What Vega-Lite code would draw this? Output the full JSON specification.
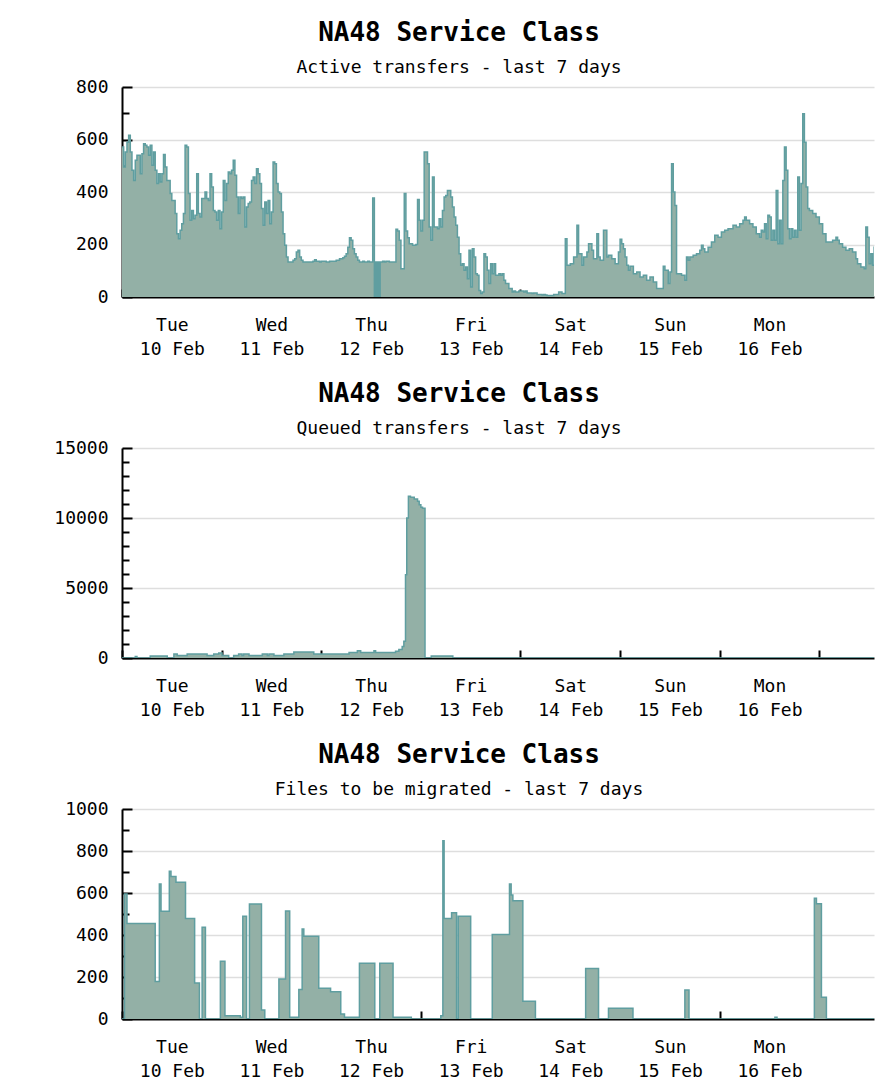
{
  "$schema": "https://vega.github.io/schema/vega-lite/v6.json",
  "background": "white",
  "padding": {"left": 53, "top": 20, "right": 10, "bottom": 0},
  "spacing": 23,
  "datasets": {
    "active": [
      {"t":"2009-02-10T00:00","v":571},{"t":"2009-02-10T00:24","v":495},{"t":"2009-02-10T00:48","v":552},{"t":"2009-02-10T01:12","v":590},{"t":"2009-02-10T01:36","v":616},{"t":"2009-02-10T02:00","v":552},{"t":"2009-02-10T02:24","v":483},{"t":"2009-02-10T02:48","v":444},{"t":"2009-02-10T03:12","v":521},{"t":"2009-02-10T03:36","v":540},{"t":"2009-02-10T04:24","v":470},{"t":"2009-02-10T04:48","v":546},{"t":"2009-02-10T05:12","v":584},{"t":"2009-02-10T05:36","v":578},{"t":"2009-02-10T06:00","v":571},{"t":"2009-02-10T06:24","v":540},{"t":"2009-02-10T06:48","v":578},{"t":"2009-02-10T07:12","v":502},{"t":"2009-02-10T07:36","v":552},{"t":"2009-02-10T08:00","v":483},{"t":"2009-02-10T08:24","v":432},{"t":"2009-02-10T08:48","v":470},{"t":"2009-02-10T09:12","v":438},{"t":"2009-02-10T09:36","v":470},{"t":"2009-02-10T10:00","v":543},{"t":"2009-02-10T10:24","v":495},{"t":"2009-02-10T10:48","v":444},{"t":"2009-02-10T11:36","v":394},{"t":"2009-02-10T12:00","v":368},{"t":"2009-02-10T12:48","v":318},{"t":"2009-02-10T13:12","v":241},{"t":"2009-02-10T13:36","v":222},{"t":"2009-02-10T14:00","v":254},{"t":"2009-02-10T14:24","v":279},{"t":"2009-02-10T14:48","v":318},{"t":"2009-02-10T15:12","v":578},{"t":"2009-02-10T15:36","v":571},{"t":"2009-02-10T16:00","v":394},{"t":"2009-02-10T16:24","v":292},{"t":"2009-02-10T16:48","v":330},{"t":"2009-02-10T17:12","v":298},{"t":"2009-02-10T17:36","v":311},{"t":"2009-02-10T18:00","v":470},{"t":"2009-02-10T18:24","v":318},{"t":"2009-02-10T18:48","v":305},{"t":"2009-02-10T19:12","v":375},{"t":"2009-02-10T20:00","v":400},{"t":"2009-02-10T20:24","v":375},{"t":"2009-02-10T20:48","v":368},{"t":"2009-02-10T21:12","v":470},{"t":"2009-02-10T21:36","v":419},{"t":"2009-02-10T22:00","v":330},{"t":"2009-02-10T22:24","v":324},{"t":"2009-02-10T22:48","v":292},{"t":"2009-02-10T23:12","v":330},{"t":"2009-02-10T23:36","v":260},
      {"t":"2009-02-11T00:00","v":324},{"t":"2009-02-11T00:24","v":444},{"t":"2009-02-11T00:48","v":368},{"t":"2009-02-11T01:12","v":432},{"t":"2009-02-11T01:36","v":476},{"t":"2009-02-11T02:00","v":470},{"t":"2009-02-11T02:24","v":483},{"t":"2009-02-11T02:48","v":521},{"t":"2009-02-11T03:12","v":464},{"t":"2009-02-11T03:36","v":381},{"t":"2009-02-11T04:00","v":318},{"t":"2009-02-11T04:24","v":381},{"t":"2009-02-11T04:48","v":375},{"t":"2009-02-11T05:12","v":381},{"t":"2009-02-11T05:36","v":267},{"t":"2009-02-11T06:00","v":343},{"t":"2009-02-11T06:24","v":356},{"t":"2009-02-11T06:48","v":362},{"t":"2009-02-11T07:12","v":444},{"t":"2009-02-11T07:36","v":457},{"t":"2009-02-11T08:00","v":432},{"t":"2009-02-11T08:24","v":489},{"t":"2009-02-11T08:48","v":470},{"t":"2009-02-11T09:12","v":432},{"t":"2009-02-11T09:36","v":337},{"t":"2009-02-11T10:00","v":273},{"t":"2009-02-11T10:24","v":362},{"t":"2009-02-11T10:48","v":318},{"t":"2009-02-11T11:12","v":368},{"t":"2009-02-11T11:36","v":279},{"t":"2009-02-11T12:00","v":324},{"t":"2009-02-11T12:24","v":514},{"t":"2009-02-11T12:48","v":508},{"t":"2009-02-11T13:12","v":432},{"t":"2009-02-11T13:36","v":400},{"t":"2009-02-11T14:00","v":394},{"t":"2009-02-11T14:24","v":324},{"t":"2009-02-11T14:48","v":241},{"t":"2009-02-11T15:12","v":197},{"t":"2009-02-11T15:36","v":152},{"t":"2009-02-11T16:00","v":133},{"t":"2009-02-11T17:12","v":140},{"t":"2009-02-11T17:36","v":146},{"t":"2009-02-11T18:00","v":171},{"t":"2009-02-11T18:24","v":178},{"t":"2009-02-11T18:48","v":152},{"t":"2009-02-11T19:12","v":140},{"t":"2009-02-11T19:36","v":133},{"t":"2009-02-11T22:00","v":136},{"t":"2009-02-11T22:24","v":142},{"t":"2009-02-11T22:48","v":136},{"t":"2009-02-11T23:36","v":133},
      {"t":"2009-02-12T00:00","v":136},{"t":"2009-02-12T01:12","v":133},{"t":"2009-02-12T02:00","v":136},{"t":"2009-02-12T03:36","v":140},{"t":"2009-02-12T04:24","v":146},{"t":"2009-02-12T05:12","v":150},{"t":"2009-02-12T05:36","v":155},{"t":"2009-02-12T06:00","v":165},{"t":"2009-02-12T06:24","v":190},{"t":"2009-02-12T06:48","v":226},{"t":"2009-02-12T07:12","v":216},{"t":"2009-02-12T07:36","v":184},{"t":"2009-02-12T08:00","v":165},{"t":"2009-02-12T08:24","v":152},{"t":"2009-02-12T08:48","v":140},{"t":"2009-02-12T09:12","v":133},{"t":"2009-02-12T10:00","v":136},{"t":"2009-02-12T10:24","v":133},{"t":"2009-02-12T11:12","v":136},{"t":"2009-02-12T11:36","v":133},{"t":"2009-02-12T12:24","v":377},{"t":"2009-02-12T12:48","v":0},{"t":"2009-02-12T13:00","v":133},{"t":"2009-02-12T13:12","v":0},{"t":"2009-02-12T13:24","v":133},{"t":"2009-02-12T13:36","v":0},{"t":"2009-02-12T13:48","v":133},{"t":"2009-02-12T14:00","v":0},{"t":"2009-02-12T14:12","v":133},{"t":"2009-02-12T14:48","v":136},{"t":"2009-02-12T15:12","v":133},{"t":"2009-02-12T15:36","v":136},{"t":"2009-02-12T16:24","v":133},{"t":"2009-02-12T18:00","v":258},{"t":"2009-02-12T18:24","v":251},{"t":"2009-02-12T18:48","v":216},{"t":"2009-02-12T19:12","v":108},{"t":"2009-02-12T20:00","v":394},{"t":"2009-02-12T20:24","v":251},{"t":"2009-02-12T20:48","v":226},{"t":"2009-02-12T21:12","v":203},{"t":"2009-02-12T22:00","v":197},{"t":"2009-02-12T22:48","v":200},{"t":"2009-02-12T23:12","v":371},{"t":"2009-02-12T23:36","v":292},
      {"t":"2009-02-13T00:00","v":251},{"t":"2009-02-13T00:24","v":292},{"t":"2009-02-13T00:48","v":552},{"t":"2009-02-13T01:36","v":508},{"t":"2009-02-13T02:00","v":267},{"t":"2009-02-13T02:24","v":216},{"t":"2009-02-13T02:48","v":457},{"t":"2009-02-13T03:12","v":267},{"t":"2009-02-13T04:00","v":260},{"t":"2009-02-13T04:24","v":298},{"t":"2009-02-13T04:48","v":267},{"t":"2009-02-13T05:12","v":330},{"t":"2009-02-13T05:36","v":381},{"t":"2009-02-13T06:00","v":387},{"t":"2009-02-13T06:24","v":406},{"t":"2009-02-13T07:12","v":381},{"t":"2009-02-13T07:36","v":343},{"t":"2009-02-13T08:00","v":305},{"t":"2009-02-13T08:24","v":273},{"t":"2009-02-13T08:48","v":228},{"t":"2009-02-13T09:12","v":165},{"t":"2009-02-13T09:36","v":121},{"t":"2009-02-13T10:00","v":127},{"t":"2009-02-13T10:24","v":102},{"t":"2009-02-13T10:48","v":114},{"t":"2009-02-13T11:12","v":70},{"t":"2009-02-13T11:36","v":178},{"t":"2009-02-13T12:00","v":38},{"t":"2009-02-13T12:24","v":184},{"t":"2009-02-13T12:48","v":152},{"t":"2009-02-13T13:12","v":89},{"t":"2009-02-13T13:36","v":83},{"t":"2009-02-13T14:00","v":25},{"t":"2009-02-13T14:24","v":13},{"t":"2009-02-13T14:48","v":19},{"t":"2009-02-13T15:12","v":165},{"t":"2009-02-13T15:36","v":152},{"t":"2009-02-13T16:00","v":102},{"t":"2009-02-13T16:24","v":51},{"t":"2009-02-13T16:48","v":127},{"t":"2009-02-13T17:12","v":89},{"t":"2009-02-13T17:36","v":127},{"t":"2009-02-13T18:00","v":83},{"t":"2009-02-13T18:48","v":89},{"t":"2009-02-13T19:12","v":83},{"t":"2009-02-13T19:36","v":89},{"t":"2009-02-13T20:00","v":64},{"t":"2009-02-13T20:24","v":51},{"t":"2009-02-13T21:12","v":32},{"t":"2009-02-13T22:00","v":19},{"t":"2009-02-13T22:24","v":23},{"t":"2009-02-13T22:48","v":19},{"t":"2009-02-13T23:36","v":23},
      {"t":"2009-02-14T00:48","v":19},{"t":"2009-02-14T01:12","v":23},{"t":"2009-02-14T01:36","v":15},{"t":"2009-02-14T02:48","v":13},{"t":"2009-02-14T03:12","v":15},{"t":"2009-02-14T04:00","v":10},{"t":"2009-02-14T05:12","v":8},{"t":"2009-02-14T05:36","v":10},{"t":"2009-02-14T06:00","v":8},{"t":"2009-02-14T06:24","v":6},{"t":"2009-02-14T08:00","v":10},{"t":"2009-02-14T09:12","v":19},{"t":"2009-02-14T10:00","v":13},{"t":"2009-02-14T10:48","v":222},{"t":"2009-02-14T11:12","v":121},{"t":"2009-02-14T12:00","v":127},{"t":"2009-02-14T12:48","v":152},{"t":"2009-02-14T13:36","v":273},{"t":"2009-02-14T14:00","v":165},{"t":"2009-02-14T14:48","v":121},{"t":"2009-02-14T15:12","v":152},{"t":"2009-02-14T16:00","v":171},{"t":"2009-02-14T16:24","v":203},{"t":"2009-02-14T17:12","v":178},{"t":"2009-02-14T17:36","v":146},{"t":"2009-02-14T18:24","v":241},{"t":"2009-02-14T18:48","v":152},{"t":"2009-02-14T19:12","v":140},{"t":"2009-02-14T20:00","v":254},{"t":"2009-02-14T20:48","v":152},{"t":"2009-02-14T21:12","v":159},{"t":"2009-02-14T22:00","v":146},{"t":"2009-02-14T22:48","v":127},{"t":"2009-02-14T23:36","v":171},
      {"t":"2009-02-15T00:00","v":220},{"t":"2009-02-15T00:24","v":203},{"t":"2009-02-15T00:48","v":184},{"t":"2009-02-15T01:12","v":152},{"t":"2009-02-15T01:36","v":121},{"t":"2009-02-15T02:00","v":102},{"t":"2009-02-15T02:24","v":117},{"t":"2009-02-15T03:12","v":89},{"t":"2009-02-15T04:00","v":95},{"t":"2009-02-15T04:48","v":76},{"t":"2009-02-15T05:36","v":83},{"t":"2009-02-15T06:24","v":64},{"t":"2009-02-15T07:12","v":76},{"t":"2009-02-15T08:00","v":57},{"t":"2009-02-15T08:48","v":32},{"t":"2009-02-15T10:24","v":117},{"t":"2009-02-15T10:48","v":102},{"t":"2009-02-15T11:36","v":51},{"t":"2009-02-15T12:00","v":95},{"t":"2009-02-15T12:24","v":508},{"t":"2009-02-15T12:48","v":400},{"t":"2009-02-15T13:12","v":349},{"t":"2009-02-15T13:36","v":89},{"t":"2009-02-15T14:48","v":83},{"t":"2009-02-15T15:36","v":64},{"t":"2009-02-15T16:00","v":152},{"t":"2009-02-15T16:24","v":140},{"t":"2009-02-15T16:48","v":152},{"t":"2009-02-15T17:36","v":159},{"t":"2009-02-15T18:24","v":165},{"t":"2009-02-15T19:12","v":178},{"t":"2009-02-15T19:36","v":197},{"t":"2009-02-15T20:00","v":184},{"t":"2009-02-15T20:24","v":171},{"t":"2009-02-15T21:12","v":190},{"t":"2009-02-15T22:00","v":210},{"t":"2009-02-15T22:48","v":235},{"t":"2009-02-15T23:36","v":228},
      {"t":"2009-02-16T00:24","v":248},{"t":"2009-02-16T01:12","v":254},{"t":"2009-02-16T02:00","v":260},{"t":"2009-02-16T03:12","v":273},{"t":"2009-02-16T04:00","v":267},{"t":"2009-02-16T04:48","v":279},{"t":"2009-02-16T05:36","v":292},{"t":"2009-02-16T06:00","v":305},{"t":"2009-02-16T06:24","v":292},{"t":"2009-02-16T07:12","v":279},{"t":"2009-02-16T08:00","v":267},{"t":"2009-02-16T08:48","v":241},{"t":"2009-02-16T09:36","v":228},{"t":"2009-02-16T10:00","v":254},{"t":"2009-02-16T10:24","v":248},{"t":"2009-02-16T10:48","v":279},{"t":"2009-02-16T11:12","v":222},{"t":"2009-02-16T11:36","v":311},{"t":"2009-02-16T12:00","v":305},{"t":"2009-02-16T12:24","v":216},{"t":"2009-02-16T12:48","v":254},{"t":"2009-02-16T13:12","v":216},{"t":"2009-02-16T13:36","v":406},{"t":"2009-02-16T14:00","v":203},{"t":"2009-02-16T14:24","v":292},{"t":"2009-02-16T14:48","v":203},{"t":"2009-02-16T15:12","v":444},{"t":"2009-02-16T15:36","v":571},{"t":"2009-02-16T16:00","v":483},{"t":"2009-02-16T16:24","v":260},{"t":"2009-02-16T16:48","v":222},{"t":"2009-02-16T17:12","v":260},{"t":"2009-02-16T17:36","v":228},{"t":"2009-02-16T18:00","v":254},{"t":"2009-02-16T18:24","v":228},{"t":"2009-02-16T18:48","v":457},{"t":"2009-02-16T19:12","v":254},{"t":"2009-02-16T19:36","v":432},{"t":"2009-02-16T20:00","v":698},{"t":"2009-02-16T20:24","v":590},{"t":"2009-02-16T20:48","v":419},{"t":"2009-02-16T21:12","v":337},{"t":"2009-02-16T21:36","v":330},{"t":"2009-02-16T22:24","v":318},{"t":"2009-02-16T23:12","v":305},
      {"t":"2009-02-17T00:00","v":279},{"t":"2009-02-17T00:48","v":241},{"t":"2009-02-17T01:36","v":210},{"t":"2009-02-17T03:12","v":216},{"t":"2009-02-17T04:00","v":228},{"t":"2009-02-17T04:24","v":216},{"t":"2009-02-17T04:48","v":203},{"t":"2009-02-17T05:36","v":190},{"t":"2009-02-17T06:24","v":178},{"t":"2009-02-17T07:12","v":184},{"t":"2009-02-17T08:00","v":171},{"t":"2009-02-17T08:48","v":146},{"t":"2009-02-17T09:12","v":127},{"t":"2009-02-17T10:00","v":114},{"t":"2009-02-17T10:48","v":108},{"t":"2009-02-17T11:12","v":267},{"t":"2009-02-17T11:36","v":228},{"t":"2009-02-17T12:00","v":127},{"t":"2009-02-17T12:24","v":165},{"t":"2009-02-17T12:48","v":121},{"t":"2009-02-17T13:12","v":190},{"t":"2009-02-17T13:40","v":190}
    ],
    "queued": [
      {"t":"2009-02-10T00:00","v":0},{"t":"2009-02-10T03:12","v":100},{"t":"2009-02-10T03:36","v":0},{"t":"2009-02-10T06:48","v":150},{"t":"2009-02-10T10:54","v":0},{"t":"2009-02-10T12:30","v":280},{"t":"2009-02-10T13:18","v":170},{"t":"2009-02-10T15:42","v":280},{"t":"2009-02-10T20:30","v":170},{"t":"2009-02-10T22:06","v":280},{"t":"2009-02-10T23:18","v":360},{"t":"2009-02-11T00:06","v":170},{"t":"2009-02-11T01:42","v":0},{"t":"2009-02-11T02:54","v":170},{"t":"2009-02-11T04:06","v":280},{"t":"2009-02-11T04:54","v":170},{"t":"2009-02-11T05:18","v":280},{"t":"2009-02-11T06:36","v":170},{"t":"2009-02-11T09:48","v":280},{"t":"2009-02-11T11:00","v":170},{"t":"2009-02-11T11:24","v":280},{"t":"2009-02-11T12:36","v":170},{"t":"2009-02-11T15:00","v":280},{"t":"2009-02-11T17:24","v":430},{"t":"2009-02-11T22:12","v":280},{"t":"2009-02-12T06:42","v":400},{"t":"2009-02-12T08:42","v":520},{"t":"2009-02-12T09:30","v":400},{"t":"2009-02-12T12:42","v":520},{"t":"2009-02-12T13:06","v":400},{"t":"2009-02-12T17:54","v":480},{"t":"2009-02-12T18:42","v":600},{"t":"2009-02-12T19:30","v":830},{"t":"2009-02-12T19:54","v":1200},{"t":"2009-02-12T20:18","v":5950},{"t":"2009-02-12T20:36","v":10000},{"t":"2009-02-12T21:00","v":11550},{"t":"2009-02-12T21:30","v":11480},{"t":"2009-02-12T22:24","v":11360},{"t":"2009-02-12T23:12","v":11190},{"t":"2009-02-12T23:36","v":10950},{"t":"2009-02-13T00:00","v":10760},{"t":"2009-02-13T00:24","v":10700},{"t":"2009-02-13T01:00","v":0},{"t":"2009-02-13T02:30","v":150},{"t":"2009-02-13T07:42","v":0},{"t":"2009-02-17T13:40","v":0}
    ],
    "migr": [
      {"t":"2009-02-10T00:00","v":0},{"t":"2009-02-10T00:36","v":595},{"t":"2009-02-10T01:12","v":455},{"t":"2009-02-10T08:00","v":179},{"t":"2009-02-10T09:00","v":643},{"t":"2009-02-10T09:24","v":513},{"t":"2009-02-10T11:24","v":703},{"t":"2009-02-10T11:48","v":678},{"t":"2009-02-10T13:00","v":651},{"t":"2009-02-10T15:18","v":479},{"t":"2009-02-10T17:30","v":171},{"t":"2009-02-10T18:39","v":0},{"t":"2009-02-10T19:18","v":437},{"t":"2009-02-10T20:06","v":0},{"t":"2009-02-10T23:42","v":275},{"t":"2009-02-11T00:48","v":16},{"t":"2009-02-11T04:30","v":8},{"t":"2009-02-11T05:06","v":489},{"t":"2009-02-11T06:00","v":0},{"t":"2009-02-11T06:42","v":548},{"t":"2009-02-11T09:36","v":43},{"t":"2009-02-11T10:24","v":0},{"t":"2009-02-11T13:48","v":190},{"t":"2009-02-11T15:24","v":514},{"t":"2009-02-11T16:24","v":8},{"t":"2009-02-11T18:36","v":140},{"t":"2009-02-11T19:24","v":429},{"t":"2009-02-11T19:48","v":394},{"t":"2009-02-11T23:24","v":146},{"t":"2009-02-12T02:15","v":130},{"t":"2009-02-12T04:42","v":24},{"t":"2009-02-12T05:36","v":8},{"t":"2009-02-12T09:12","v":265},{"t":"2009-02-12T12:54","v":0},{"t":"2009-02-12T14:06","v":265},{"t":"2009-02-12T17:18","v":8},{"t":"2009-02-12T21:42","v":0},{"t":"2009-02-13T04:48","v":16},{"t":"2009-02-13T05:18","v":849},{"t":"2009-02-13T05:36","v":479},{"t":"2009-02-13T07:24","v":506},{"t":"2009-02-13T08:36","v":0},{"t":"2009-02-13T09:00","v":489},{"t":"2009-02-13T12:00","v":0},{"t":"2009-02-13T17:12","v":402},{"t":"2009-02-13T21:21","v":643},{"t":"2009-02-13T21:45","v":590},{"t":"2009-02-13T22:10","v":563},{"t":"2009-02-14T00:34","v":84},{"t":"2009-02-14T03:36","v":0},{"t":"2009-02-14T15:42","v":240},{"t":"2009-02-14T18:48","v":0},{"t":"2009-02-14T21:12","v":51},{"t":"2009-02-15T03:06","v":0},{"t":"2009-02-15T15:36","v":138},{"t":"2009-02-15T16:36","v":0},{"t":"2009-02-16T13:18","v":8},{"t":"2009-02-16T13:48","v":0},{"t":"2009-02-16T22:48","v":575},{"t":"2009-02-16T23:18","v":549},{"t":"2009-02-17T00:30","v":103},{"t":"2009-02-17T01:42","v":0},{"t":"2009-02-17T13:40","v":0}
    ]
  },
  "vconcat": [
    {
      "width": 752, "height": 210,
      "title": {"text": "NA48 Service Class", "subtitle": "Active transfers - last 7 days"},
      "data": {"name": "active"},
      "mark": {"type": "area", "interpolate": "step-after", "clip": true, "color": "#93b0a6", "opacity": 1, "fillOpacity": 1, "line": {"stroke": "#5f9ea0", "strokeWidth": 1.5}},
      "encoding": {
        "x": {"field": "t", "type": "temporal", "title": null,
          "scale": {"domain": [{"year": 2009, "month": 2, "date": 10}, {"year": 2009, "month": 2, "date": 17, "hours": 13, "minutes": 10}]},
          "axis": {"values": [{"year":2009,"month":2,"date":10},{"year":2009,"month":2,"date":10,"hours":12},{"year":2009,"month":2,"date":11},{"year":2009,"month":2,"date":11,"hours":12},{"year":2009,"month":2,"date":12},{"year":2009,"month":2,"date":12,"hours":12},{"year":2009,"month":2,"date":13},{"year":2009,"month":2,"date":13,"hours":12},{"year":2009,"month":2,"date":14},{"year":2009,"month":2,"date":14,"hours":12},{"year":2009,"month":2,"date":15},{"year":2009,"month":2,"date":15,"hours":12},{"year":2009,"month":2,"date":16},{"year":2009,"month":2,"date":16,"hours":12},{"year":2009,"month":2,"date":17}],
            "labelExpr": "hours(datum.value) == 12 ? [timeFormat(datum.value, '%a'), timeFormat(datum.value, '%d %b')] : ''",
            "tickOpacity": {"condition": {"test": "hours(datum.value) == 0", "value": 1}, "value": 0}}},
        "y": {"field": "v", "type": "quantitative", "title": null,
          "scale": {"domain": [0, 800], "nice": false},
          "axis": {"values": [0,100,200,300,400,500,600,700,800], "format": "d",
            "labelExpr": "datum.value % 200 == 0 ? datum.label : ''",
            "tickSize": {"condition": {"test": "datum.value % 200 == 0", "value": -10}, "value": -7},
            "gridOpacity": {"condition": {"test": "datum.value % 200 == 0 && datum.value > 0", "value": 1}, "value": 0}}}
      }
    },
    {
      "width": 752, "height": 210,
      "title": {"text": "NA48 Service Class", "subtitle": "Queued transfers - last 7 days"},
      "data": {"name": "queued"},
      "mark": {"type": "area", "interpolate": "step-after", "clip": true, "color": "#93b0a6", "opacity": 1, "fillOpacity": 1, "line": {"stroke": "#5f9ea0", "strokeWidth": 1.5}},
      "encoding": {
        "x": {"field": "t", "type": "temporal", "title": null,
          "scale": {"domain": [{"year": 2009, "month": 2, "date": 10}, {"year": 2009, "month": 2, "date": 17, "hours": 13, "minutes": 10}]},
          "axis": {"values": [{"year":2009,"month":2,"date":10},{"year":2009,"month":2,"date":10,"hours":12},{"year":2009,"month":2,"date":11},{"year":2009,"month":2,"date":11,"hours":12},{"year":2009,"month":2,"date":12},{"year":2009,"month":2,"date":12,"hours":12},{"year":2009,"month":2,"date":13},{"year":2009,"month":2,"date":13,"hours":12},{"year":2009,"month":2,"date":14},{"year":2009,"month":2,"date":14,"hours":12},{"year":2009,"month":2,"date":15},{"year":2009,"month":2,"date":15,"hours":12},{"year":2009,"month":2,"date":16},{"year":2009,"month":2,"date":16,"hours":12},{"year":2009,"month":2,"date":17}],
            "labelExpr": "hours(datum.value) == 12 ? [timeFormat(datum.value, '%a'), timeFormat(datum.value, '%d %b')] : ''",
            "tickOpacity": {"condition": {"test": "hours(datum.value) == 0", "value": 1}, "value": 0}}},
        "y": {"field": "v", "type": "quantitative", "title": null,
          "scale": {"domain": [0, 15000], "nice": false},
          "axis": {"values": [0,1000,2000,3000,4000,5000,6000,7000,8000,9000,10000,11000,12000,13000,14000,15000], "format": "d",
            "labelExpr": "datum.value % 5000 == 0 ? datum.label : ''",
            "tickSize": {"condition": {"test": "datum.value % 5000 == 0", "value": -10}, "value": -7},
            "gridOpacity": {"condition": {"test": "datum.value % 5000 == 0 && datum.value > 0", "value": 1}, "value": 0}}}
      }
    },
    {
      "width": 752, "height": 210,
      "title": {"text": "NA48 Service Class", "subtitle": "Files to be migrated - last 7 days"},
      "data": {"name": "migr"},
      "mark": {"type": "area", "interpolate": "step-after", "clip": true, "color": "#93b0a6", "opacity": 1, "fillOpacity": 1, "line": {"stroke": "#5f9ea0", "strokeWidth": 1.5}},
      "encoding": {
        "x": {"field": "t", "type": "temporal", "title": null,
          "scale": {"domain": [{"year": 2009, "month": 2, "date": 10}, {"year": 2009, "month": 2, "date": 17, "hours": 13, "minutes": 10}]},
          "axis": {"values": [{"year":2009,"month":2,"date":10},{"year":2009,"month":2,"date":10,"hours":12},{"year":2009,"month":2,"date":11},{"year":2009,"month":2,"date":11,"hours":12},{"year":2009,"month":2,"date":12},{"year":2009,"month":2,"date":12,"hours":12},{"year":2009,"month":2,"date":13},{"year":2009,"month":2,"date":13,"hours":12},{"year":2009,"month":2,"date":14},{"year":2009,"month":2,"date":14,"hours":12},{"year":2009,"month":2,"date":15},{"year":2009,"month":2,"date":15,"hours":12},{"year":2009,"month":2,"date":16},{"year":2009,"month":2,"date":16,"hours":12},{"year":2009,"month":2,"date":17}],
            "labelExpr": "hours(datum.value) == 12 ? [timeFormat(datum.value, '%a'), timeFormat(datum.value, '%d %b')] : ''",
            "tickOpacity": {"condition": {"test": "hours(datum.value) == 0", "value": 1}, "value": 0}}},
        "y": {"field": "v", "type": "quantitative", "title": null,
          "scale": {"domain": [0, 1000], "nice": false},
          "axis": {"values": [0,100,200,300,400,500,600,700,800,900,1000], "format": "d",
            "labelExpr": "datum.value % 200 == 0 ? datum.label : ''",
            "tickSize": {"condition": {"test": "datum.value % 200 == 0", "value": -10}, "value": -7},
            "gridOpacity": {"condition": {"test": "datum.value % 200 == 0 && datum.value > 0", "value": 1}, "value": 0}}}
      }
    }
  ],
  "config": {
    "view": {"stroke": null},
    "font": "DejaVu Sans Mono",
    "title": {"font": "DejaVu Sans Mono", "fontSize": 26, "fontWeight": "bold", "color": "black", "subtitleFont": "DejaVu Sans Mono", "subtitleFontSize": 18, "subtitleColor": "black", "subtitlePadding": 13, "offset": 1, "anchor": "middle", "dx": -39},
    "axis": {"labelFont": "DejaVu Sans Mono", "labelFontSize": 18, "labelColor": "black", "domainColor": "black", "domainWidth": 2, "tickColor": "black", "tickWidth": 2, "gridColor": "#dedede", "gridWidth": 1.5, "zindex": 1},
    "axisX": {"grid": false, "tickSize": -8, "labelPadding": 27, "labelLineHeight": 24, "labelBaseline": "top", "labelAlign": "center", "labelFlush": false, "labelOverlap": false},
    "axisY": {"grid": true, "labelPadding": 24, "labelOverlap": false}
  }
}
